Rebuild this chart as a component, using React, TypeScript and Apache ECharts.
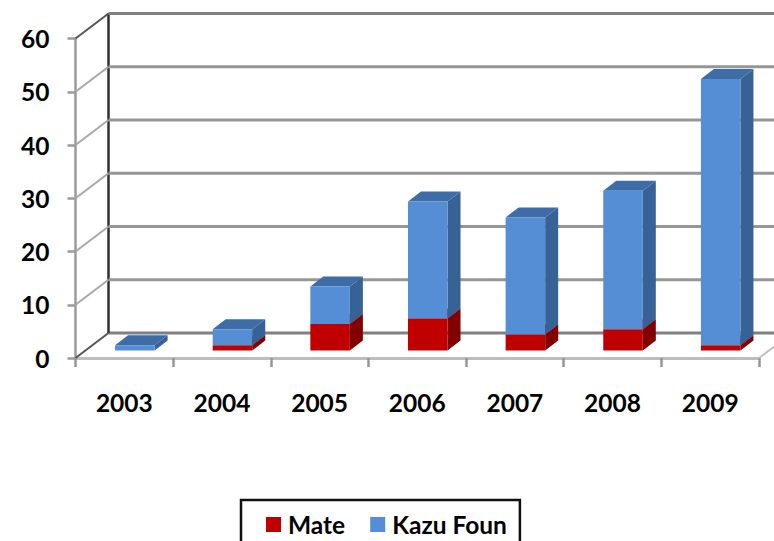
import React, { useEffect, useRef } from "react";
import * as echarts from "echarts";

const years = ["2003", "2004", "2005", "2006", "2007", "2008", "2009"];
const mate = [0, 1, 5, 6, 3, 4, 1];
const kazuFoun = [1, 3, 7, 22, 22, 26, 50];
const yTicks = [0, 10, 20, 30, 40, 50, 60];

const WALL_DX = 33;
const WALL_DY = -25;
const BAR_INSET_X = 10.5;
const BAR_INSET_Y = -7.5;
const BAR_DX = 13;
const BAR_DY = -10;
const BAR_RATIO = 0.405;
const FONT = "Lato, 'Open Sans', sans-serif";
const FONT_SIZE = 24.5;

const wallRender = (params: any, api: any) => {
  const v = api.value(1);
  const cs = params.coordSys;
  const y = api.coord([0, v])[1];
  const left = cs.x;
  const right = cs.x + cs.width;
  const dark = v === 60 || v === 0;
  const children: any[] = [
    {
      type: "line",
      shape: { x1: left, y1: y, x2: left + WALL_DX, y2: y + WALL_DY },
      style: { stroke: dark ? "#555555" : "#a8a8a8", lineWidth: 2 },
    },
    {
      type: "line",
      shape: { x1: left + WALL_DX, y1: y + WALL_DY, x2: right + WALL_DX, y2: y + WALL_DY },
      style: { stroke: v === 60 || v === 0 ? "#808080" : "#969696", lineWidth: 3 },
    },
  ];
  if (v === 0) {
    children.push({
      type: "line",
      shape: { x1: right, y1: y, x2: right + WALL_DX, y2: y + WALL_DY },
      style: { stroke: "#c0c0c0", lineWidth: 2 },
    });
    children.push({
      type: "line",
      shape: { x1: left + WALL_DX, y1: y + WALL_DY, x2: left + WALL_DX, y2: api.coord([0, 60])[1] + WALL_DY },
      style: { stroke: "#2f2f2f", lineWidth: 2.5 },
    });
  }
  return { type: "group", children };
};

const barRender = (front: string, side: string, top: string) => (_p: any, api: any) => {
  const i = api.value(0);
  const base = api.value(1);
  const end = api.value(2);
  if (end <= base) return null;
  const center = api.coord([i, 0])[0] + BAR_INSET_X;
  const w = api.size([1, 0])[0] * BAR_RATIO;
  const x0 = center - w / 2;
  const x1 = center + w / 2;
  const y0 = api.coord([i, base])[1] + BAR_INSET_Y;
  const y1 = api.coord([i, end])[1] + BAR_INSET_Y;
  return {
    type: "group",
    children: [
      {
        type: "polygon",
        shape: { points: [[x1, y0], [x1 + BAR_DX, y0 + BAR_DY], [x1 + BAR_DX, y1 + BAR_DY], [x1, y1]] },
        style: { fill: side },
      },
      {
        type: "polygon",
        shape: { points: [[x0, y1], [x1, y1], [x1 + BAR_DX, y1 + BAR_DY], [x0 + BAR_DX, y1 + BAR_DY]] },
        style: { fill: top },
      },
      {
        type: "rect",
        shape: { x: x0, y: y1, width: x1 - x0, height: y0 - y1 },
        style: { fill: front },
      },
    ],
  };
};

export default function App() {
  const ref = useRef<HTMLDivElement>(null);
  useEffect(() => {
    document.body.style.margin = "0";
    document.body.style.overflow = "hidden";
    const chart = echarts.init(ref.current!, undefined, { renderer: "svg" });
    chart.setOption({
      animation: false,
      backgroundColor: "#ffffff",
      textStyle: { fontFamily: FONT },
      grid: { left: 75.5, top: 38.5, width: 683.5, height: 319.5, containLabel: false },
      legend: {
        data: ["Mate", "Kazu Foun"],
        left: 241,
        top: 500,
        orient: "horizontal",
        icon: "rect",
        itemWidth: 15,
        itemHeight: 15,
        itemGap: 25,
        padding: [12, 13, 34, 25],
        borderColor: "#111111",
        borderWidth: 2.5,
        textStyle: { fontFamily: FONT, fontWeight: "bold", fontSize: FONT_SIZE, lineHeight: 24, color: "#000000", padding: [0, 0, 0, 2] },
      },
      xAxis: {
        type: "category",
        data: years,
        boundaryGap: true,
        axisLine: { show: true, lineStyle: { color: "#bdbdbd", width: 3 } },
        axisTick: { show: true, length: 9, lineStyle: { color: "#969696", width: 2.5 } },
        axisLabel: { fontFamily: FONT, fontWeight: "bold", fontSize: FONT_SIZE, color: "#000000", margin: 32 },
      },
      yAxis: {
        type: "value",
        min: 0,
        max: 60,
        interval: 10,
        axisLine: { show: true, lineStyle: { color: "#9a9a9a", width: 2.5 } },
        axisTick: { show: true, length: 8, lineStyle: { color: "#9a9a9a", width: 2.5 } },
        splitLine: { show: false },
        axisLabel: { fontFamily: FONT, fontWeight: "bold", fontSize: FONT_SIZE, color: "#000000", margin: 26 },
      },
      series: [
        {
          name: "walls",
          type: "custom",
          clip: false,
          silent: true,
          renderItem: wallRender,
          encode: { x: 0, y: 1 },
          data: yTicks.map((t) => [0, t]),
          z: 1,
        },
        {
          name: "Mate",
          type: "custom",
          clip: false,
          renderItem: barRender("#c00000", "#820000", "#950000"),
          itemStyle: { color: "#c00000" },
          encode: { x: 0, y: 2 },
          data: years.map((_, i) => [i, 0, mate[i]]),
          z: 2,
        },
        {
          name: "Kazu Foun",
          type: "custom",
          clip: false,
          renderItem: barRender("#558ed5", "#376296", "#3d6ca6"),
          itemStyle: { color: "#558ed5" },
          encode: { x: 0, y: 2 },
          data: years.map((_, i) => [i, mate[i], mate[i] + kazuFoun[i]]),
          z: 3,
        },
      ],
    });
    return () => chart.dispose();
  }, []);
  return <div ref={ref} style={{ width: 774, height: 541 }} />;
}
